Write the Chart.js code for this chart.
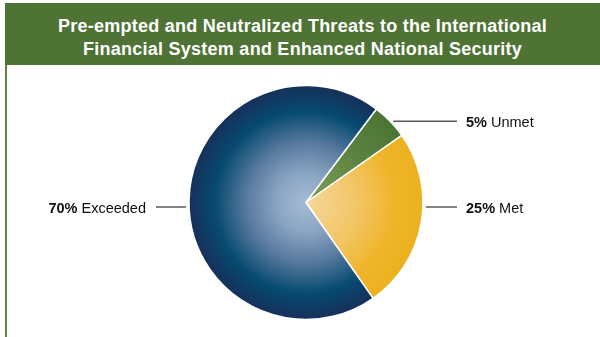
<!DOCTYPE html>
<html>
<head>
<meta charset="utf-8">
<script src="https://cdn.jsdelivr.net/npm/chart.js@4"></script>
<style>
  html, body { margin: 0; padding: 0; background: #fff; }
  #wrap { position: relative; width: 600px; height: 337px; overflow: hidden; }
  #head {
    position: absolute; left: 5px; top: 3px; width: 595px; height: 62px;
    background: #4e7335; color: #fff; text-align: center;
    font: bold 18px "Liberation Sans", Arial, sans-serif; line-height: 23.5px;
    padding-top: 11.5px; box-sizing: border-box; letter-spacing: 0.25px;
  }
  #edge { position: absolute; left: 5px; top: 65px; width: 2px; height: 272px; background: #5f8545; }
  #box { position: absolute; left: 0; top: 0; width: 600px; height: 337px; }
</style>
</head>
<body>
<div id="wrap">
  <div id="box"><canvas id="pie"></canvas></div>
  <div id="head">Pre-empted and Neutralized Threats to the International<br>Financial System and Enhanced National Security</div>
  <div id="edge"></div>
</div>
<script>
// 성과 구분별 비율 (%)
const categories = ['Unmet', 'Met', 'Exceeded'];
const shares = [5, 25, 70];

const R = 117;

// 조각별 방사형 그라데이션 (중심 -> 바깥)
const stops = [
  [[0, '#7f9f5a'], [0.6, '#5b8240'], [1, '#4b7432']],
  [[0, '#f6d79c'], [0.45, '#f2c564'], [0.75, '#efb52a'], [1, '#ecb11f']],
  [[0, '#a6bdd6'], [0.25, '#8aa5c3'], [0.5, '#5a7ca0'], [0.78, '#064a70'], [1, '#16305a']],
];

function sliceFill(ctx) {
  const area = ctx.chart.chartArea;
  if (!area) return stops[ctx.dataIndex][1][1];
  const cx = (area.left + area.right) / 2;
  const cy = (area.top + area.bottom) / 2;
  const g = ctx.chart.ctx.createRadialGradient(cx, cy, 0, cx, cy, R);
  stops[ctx.dataIndex].forEach(([p, c]) => g.addColorStop(p, c));
  return g;
}

// 지시선 + 라벨
const leaders = {
  id: 'leaders',
  afterDatasetsDraw(chart) {
    const { ctx } = chart;
    const arcs = chart.getDatasetMeta(0).data;
    ctx.save();
    arcs.forEach((arc, i) => {
      const { x, y, startAngle, endAngle, outerRadius: r } = arc;
      // 조각이 수평 방향(3시/9시)을 포함하면 그 높이에, 아니면 중앙 각도에 선을 둔다
      let a = (startAngle + endAngle) / 2;
      const has = (t) => [t, t + 2 * Math.PI, t - 2 * Math.PI].some((v) => v >= startAngle && v <= endAngle);
      if (has(0)) a = 0;
      else if (has(Math.PI)) a = Math.PI;
      const right = Math.cos(a) >= 0;
      const ly = a === 0 || a === Math.PI ? y + 4.5 : y + Math.sin(a) * r;
      const dy = ly - y;
      const ex = x + (right ? 1 : -1) * Math.sqrt(Math.max(r * r - dy * dy, 0)) + (right ? 3 : -3);
      const lx = x + (right ? 151 : -150);
      ctx.strokeStyle = '#5a5a5a';
      ctx.lineWidth = 1.5;
      ctx.beginPath();
      ctx.moveTo(ex, ly);
      ctx.lineTo(lx, ly);
      ctx.stroke();

      const pct = shares[i] + '%';
      const name = ' ' + categories[i];
      const bold = 'bold 14.5px "Liberation Sans", Arial, sans-serif';
      const norm = '14.5px "Liberation Sans", Arial, sans-serif';
      ctx.textBaseline = 'middle';
      ctx.fillStyle = '#111';
      ctx.font = bold;
      const w1 = ctx.measureText(pct).width;
      ctx.font = norm;
      const w2 = ctx.measureText(name).width;
      const tx = right ? lx + 9 : lx - 10 - w1 - w2;
      ctx.font = bold;
      ctx.fillText(pct, tx, ly + 1.5);
      ctx.font = norm;
      ctx.fillText(name, tx + w1, ly + 1.5);
    });
    ctx.restore();
  },
};

new Chart(document.getElementById('pie'), {
  type: 'pie',
  data: {
    labels: categories,
    datasets: [{
      data: shares,
      backgroundColor: sliceFill,
      borderColor: '#ffffff',
      borderWidth: 1.5,
      radius: R,
    }],
  },
  options: {
    responsive: true,
    maintainAspectRatio: false,
    animation: false,
    rotation: 37,
    layout: { padding: { left: 12, right: 0, top: 68, bottom: 0 } },
    plugins: { legend: { display: false }, tooltip: { enabled: false } },
  },
  plugins: [leaders],
});
</script>
</body>
</html>
